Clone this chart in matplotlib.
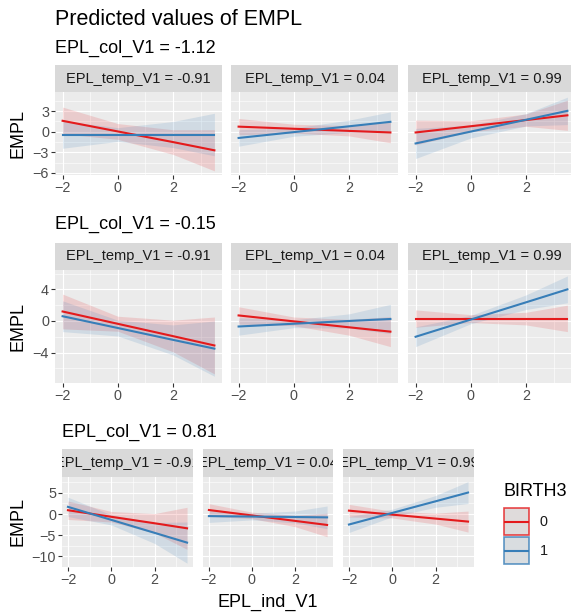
import matplotlib
matplotlib.use("Agg")
import matplotlib.pyplot as plt
from matplotlib.patches import Rectangle

plt.rcParams['font.family'] = ['Liberation Sans', 'DejaVu Sans']

W, H = 571, 615

# predictions are read at these EPL_ind_V1 values
x_ind = [-2, 0, 2, 3.5]
col_labels = ['EPL_col_V1 = -1.12', 'EPL_col_V1 = -0.15', 'EPL_col_V1 = 0.81']
temp_labels = ['EPL_temp_V1 = -0.91', 'EPL_temp_V1 = 0.04', 'EPL_temp_V1 = 0.99']
groups = ['0', '1']

# BIRTH3 = 0 (one list per EPL_temp_V1 panel)
fit0_col1 = [[1.6, 0.05, -1.5, -2.7], [0.75, 0.44, 0.13, -0.1], [-0.1, 0.81, 1.71, 2.4]]
lo0_col1 = [[-0.3, -1.1, -3.3, -5.7], [-0.45, -0.2, -0.6, -1.6], [-1.9, 0.0, 0.8, 0.2]]
hi0_col1 = [[3.6, 1.2, 0.3, 0.3], [1.95, 1.1, 0.9, 1.4], [1.7, 1.6, 2.6, 4.6]]
fit0_col2 = [[1.2, -0.36, -1.92, -3.1], [0.7, -0.05, -0.8, -1.35], [0.3, 0.3, 0.3, 0.3]]
lo0_col2 = [[-1.0, -1.3, -3.9, -6.7], [-0.4, -0.6, -1.8, -3.25], [-0.8, -0.2, -0.5, -1.35]]
hi0_col2 = [[3.4, 0.6, 0.1, 0.5], [1.8, 0.5, 0.2, 0.55], [1.4, 0.8, 1.1, 2.0]]
fit0_col3 = [[0.9, -0.66, -2.2, -3.4], [0.95, -0.34, -1.63, -2.6], [0.8, -0.15, -1.09, -1.8]]
lo0_col3 = [[-1.3, -1.9, -4.5, -8.4], [-0.55, -1.1, -3.0, -5.4], [-0.7, -0.95, -2.4, -4.3]]
hi0_col3 = [[3.1, 0.6, 0.1, 1.6], [2.45, 0.45, -0.3, 0.2], [2.3, 0.65, 0.2, 0.7]]

# BIRTH3 = 1
fit1_col1 = [[-0.4, -0.4, -0.4, -0.4], [-0.9, -0.05, 0.8, 1.45], [-1.7, 0.03, 1.75, 3.05]]
lo1_col1 = [[-2.4, -1.4, -2.3, -3.5], [-2.1, -0.65, -0.1, 0.0], [-3.9, -0.9, 0.85, 1.05]]
hi1_col1 = [[1.6, 0.6, 1.5, 2.7], [0.3, 0.55, 1.7, 2.9], [0.5, 0.95, 2.65, 5.05]]
fit1_col2 = [[0.6, -0.89, -2.39, -3.5], [-0.7, -0.35, 0.0, 0.25], [-2.0, 0.18, 2.36, 4.0]]
lo1_col2 = [[-1.35, -1.9, -4.3, -7.0], [-1.8, -0.85, -0.9, -1.6], [-3.25, -0.35, 1.45, 2.3]]
hi1_col2 = [[2.55, 0.1, -0.5, 0.0], [0.4, 0.15, 0.9, 2.1], [-0.75, 0.7, 3.3, 5.7]]
fit1_col3 = [[1.7, -1.39, -4.48, -6.8], [-0.5, -0.61, -0.71, -0.8], [-2.5, 0.26, 3.02, 5.1]]
lo1_col3 = [[-0.6, -2.6, -7.0, -11.7], [-2.0, -1.4, -2.1, -3.5], [-4.4, -0.65, 1.6, 2.5]]
hi1_col3 = [[4.0, -0.2, -2.0, -1.9], [1.0, 0.2, 0.7, 1.9], [-0.6, 1.15, 4.4, 7.7]]

fits = [(fit0_col1, fit1_col1), (fit0_col2, fit1_col2), (fit0_col3, fit1_col3)]
lows = [(lo0_col1, lo1_col1), (lo0_col2, lo1_col2), (lo0_col3, lo1_col3)]
highs = [(hi0_col1, hi1_col1), (hi0_col2, hi1_col2), (hi0_col3, hi1_col3)]

colors = ['#E41A1C', '#377EB8']
key_fills = ['#D8D2D2', '#D0D5D9']

# layout of each row, in pixels
rows = [
    dict(xs=[(55, 222), (231, 398), (408, 575)], strip=(65, 92), panel=(92, 175),
         ylim=(-6.3, 5.8), yt=[-6, -3, 0, 3], ym=[-4.5, -1.5, 1.5, 4.5], sub=(55, 52.5)),
    dict(xs=[(55, 222), (231, 398), (408, 575)], strip=(243, 270), panel=(270, 383),
         ylim=(-7.85, 6.45), yt=[-4, 0, 4], ym=[-6, -2, 2, 6], sub=(55, 229)),
    dict(xs=[(62, 193), (203, 333), (343, 474)], strip=(449, 477), panel=(477, 567),
         ylim=(-12.6, 8.8), yt=[-10, -5, 0, 5], ym=[-12.5, -7.5, -2.5, 2.5, 7.5], sub=(62, 437)),
]


def px_axes(fig, x0, y0, x1, y1):
    return fig.add_axes([x0 / W, 1 - y1 / H, (x1 - x0) / W, (y1 - y0) / H])


fig = plt.figure(figsize=(W / 100, H / 100), dpi=100)

fig.text(55 / W, 1 - 25 / H, 'Predicted values of EMPL', fontsize=15.5, va='baseline')

for r, spec in enumerate(rows):
    sx, sy = spec['sub']
    fig.text(sx / W, 1 - sy / H, col_labels[r], fontsize=13, va='baseline')
    for p, (x0, x1) in enumerate(spec['xs']):
        # strip
        sax = px_axes(fig, x0, spec['strip'][0], x1, spec['strip'][1])
        sax.set_facecolor('#D9D9D9')
        sax.set_xticks([])
        sax.set_yticks([])
        for s in sax.spines.values():
            s.set_visible(False)
        sax.text(0.5, 0.5, temp_labels[p], ha='center', va='center', fontsize=10.5,
                 color='#1A1A1A', transform=sax.transAxes, clip_on=True)

        ax = px_axes(fig, x0, spec['panel'][0], x1, spec['panel'][1])
        ax.set_facecolor('#EBEBEB')
        for s in ax.spines.values():
            s.set_visible(False)
        for g in range(2):
            ax.fill_between(x_ind, lows[r][g][p], highs[r][g][p], color=colors[g],
                            alpha=0.15, lw=0, zorder=2)
        for g in range(2):
            ax.plot(x_ind, fits[r][g][p], color=colors[g], lw=1.5, zorder=3)
        ax.set_xlim(-2.275, 3.775)
        ax.set_ylim(*spec['ylim'])
        ax.set_xticks([-2, 0, 2])
        ax.set_xticks([-1, 1, 3], minor=True)
        ax.set_yticks(spec['yt'])
        ax.set_yticks(spec['ym'], minor=True)
        ax.grid(which='major', color='white', lw=0.85, zorder=0)
        ax.grid(which='minor', color='white', lw=0.4, zorder=0)
        ax.set_axisbelow(True)
        ax.tick_params(which='major', length=2.8, width=0.8, color='#333333',
                       labelsize=10.4, labelcolor='#4D4D4D', pad=1.5)
        ax.tick_params(which='minor', length=0)
        if p > 0:
            ax.tick_params(axis='y', which='both', left=False, labelleft=False)
    pc = (spec['panel'][0] + spec['panel'][1]) / 2
    fig.text(18 / W, 1 - pc / H, 'EMPL', rotation=90, ha='center', va='center', fontsize=13)

fig.text(268 / W, 1 - 602 / H, 'EPL_ind_V1', ha='center', va='center', fontsize=13)

# legend, drawn in its own pixel-unit axes
lax = px_axes(fig, 495, 475, 571, 570)
lax.set_xlim(495, 571)
lax.set_ylim(570, 475)
lax.axis('off')
lax.text(503, 491, 'BIRTH3', va='center', ha='left', fontsize=13)
for i, (c, lab) in enumerate(zip(colors, groups)):
    top = 508 + 29 * i
    lax.add_patch(Rectangle((503.5, top), 25.5, 27, facecolor=key_fills[i],
                            edgecolor=c, lw=1.2, alpha=0.8))
    lax.plot([505, 527.5], [top + 13.5, top + 13.5], color=c, lw=1.5)
    lax.text(540, top + 14, lab, va='center', ha='left', fontsize=10.4, color='#1A1A1A')

fig.savefig('out.png', dpi=100)
